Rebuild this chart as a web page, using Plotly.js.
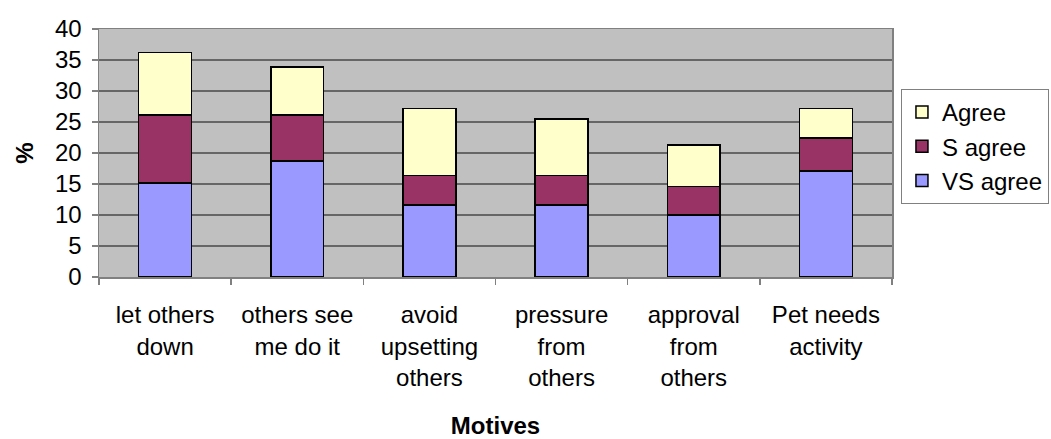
<!DOCTYPE html>
<html>
<head>
<meta charset="utf-8">
<script src="https://cdn.plot.ly/plotly-3.0.1.min.js"></script>
<style>html,body{margin:0;padding:0;background:#fff;}#chart{width:1051px;height:439px;}</style>
</head>
<body>
<div id="chart"></div>
<script>
const categories = ["let others<br>down", "others see<br>me do it", "avoid<br>upsetting<br>others", "pressure<br>from<br>others", "approval<br>from<br>others", "Pet needs<br>activity"];
const vsAgree = [15.2, 18.7, 11.6, 11.6, 10.0, 17.1];
const sAgree = [10.9, 7.4, 4.8, 4.8, 4.6, 5.3];
const agree = [10.1, 7.8, 10.8, 9.1, 6.7, 4.8];
const yTicks = [0, 5, 10, 15, 20, 25, 30, 35, 40];

const FONT = "Liberation Sans, Arial, sans-serif";
const line = {color: "#000000", width: 1.5};

const traces = [
  {type: "bar", name: "VS agree", x: categories, y: vsAgree, legendgroup: "a",
   marker: {color: "#9999FF", line: line}},
  {type: "bar", name: "S agree", x: categories, y: sAgree, legendgroup: "b",
   marker: {color: "#993366", line: line}},
  {type: "bar", name: "Agree", x: categories, y: agree, legendgroup: "c",
   marker: {color: "#FFFFCC", line: line}}
];

const layout = {
  width: 1051, height: 439,
  margin: {l: 99, r: 159, t: 29, b: 162, autoexpand: false},
  paper_bgcolor: "#ffffff",
  plot_bgcolor: "#C0C0C0",
  barmode: "stack",
  bargap: 0.6,
  font: {family: FONT, size: 24, color: "#000000"},
  showlegend: true,
  legend: {
    x: 1.0113, xanchor: "left", y: 0.758, yanchor: "top",
    traceorder: "reversed", tracegroupgap: 16,
    bgcolor: "#ffffff", bordercolor: "#808080", borderwidth: 1,
    font: {family: FONT, size: 24, color: "#000000"}
  },
  xaxis: {
    type: "category",
    showline: true, linecolor: "#808080", linewidth: 1.5, mirror: true,
    ticks: "outside", tickson: "boundaries", ticklen: 6, tickcolor: "#808080", tickwidth: 1.5,
    showgrid: false,
    ticklabelstandoff: 16,
    tickfont: {family: FONT, size: 24},
    title: {text: "<b>Motives</b>", font: {family: FONT, size: 24}, standoff: 30},
    automargin: false
  },
  yaxis: {
    range: [0, 40], tickvals: yTicks,
    showline: true, linecolor: "#808080", linewidth: 1.5, mirror: true,
    ticks: "outside", ticklen: 6, tickcolor: "#808080", tickwidth: 1.5,
    showgrid: true, gridcolor: "#666666", gridwidth: 1.5,
    zeroline: false,
    ticklabelstandoff: 5,
    tickfont: {family: FONT, size: 24},
    title: {text: "<b>%</b>", font: {family: FONT, size: 24}, standoff: 14},
    automargin: false
  }
};

Plotly.newPlot("chart", traces, layout, {displayModeBar: false, staticPlot: true});
</script>
</body>
</html>
